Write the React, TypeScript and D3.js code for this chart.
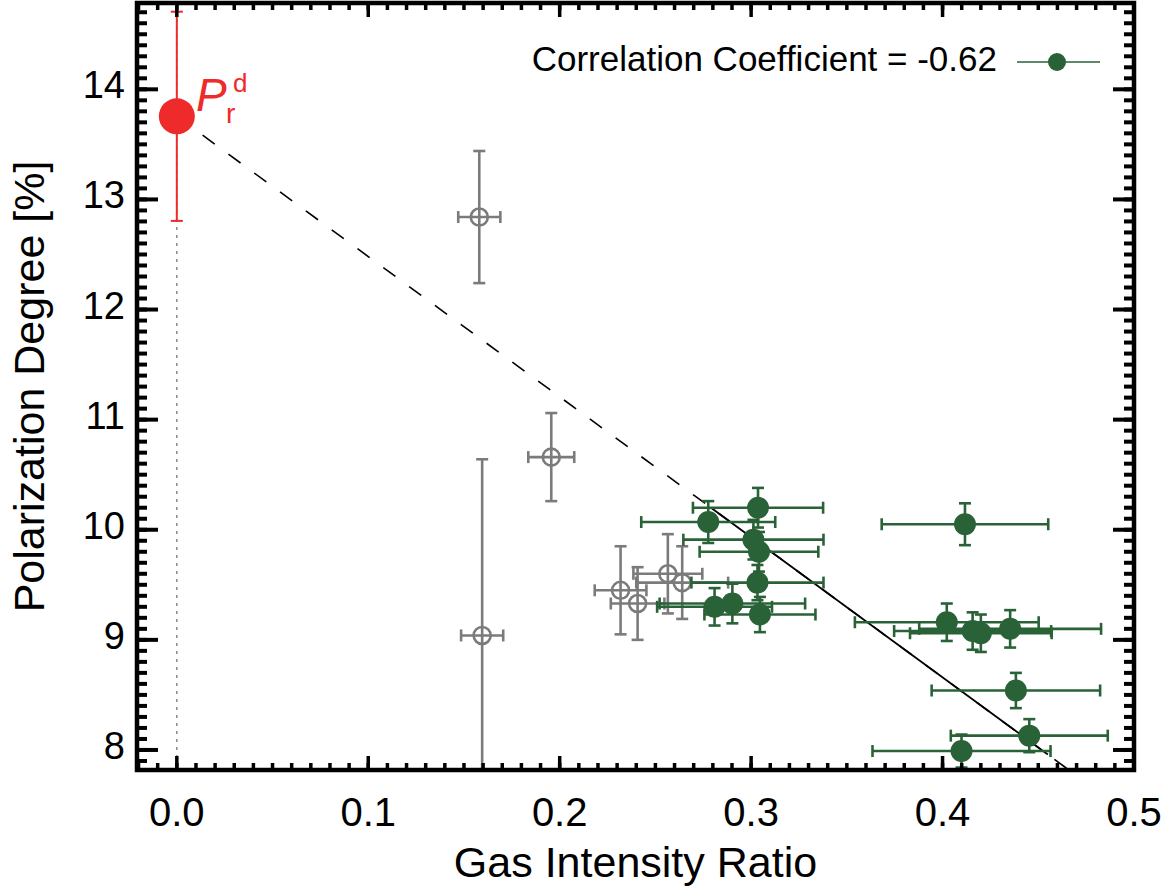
import React from 'react';
import * as d3 from 'd3';

// ---- data ----
const xMajorTicks = [0.0, 0.1, 0.2, 0.3, 0.4, 0.5];
const xTickLabels = ['0.0', '0.1', '0.2', '0.3', '0.4', '0.5'];
const yMajorTicks = [8, 9, 10, 11, 12, 13, 14];
const yTickLabels = ['8', '9', '10', '11', '12', '13', '14'];

// excluded (open grey) points
const grayX = [0.158, 0.1956, 0.1595, 0.2318, 0.2407, 0.2565, 0.264];
const grayY = [12.84, 10.66, 9.04, 9.45, 9.33, 9.6, 9.52];
const grayXErr = [0.011, 0.012, 0.011, 0.0135, 0.014, 0.018, 0.024];
const grayYErr = [0.6, 0.4, 1.6, 0.4, 0.33, 0.36, 0.33];

// fitted (filled green) points
const greenX = [0.3036, 0.2776, 0.3012, 0.3041, 0.3033, 0.2809, 0.2902, 0.3046, 0.4117, 0.4022, 0.4157, 0.42, 0.4353, 0.4383, 0.4453, 0.4099];
const greenY = [10.2, 10.07, 9.91, 9.8, 9.52, 9.3, 9.33, 9.23, 10.05, 9.16, 9.08, 9.06, 9.1, 8.54, 8.13, 7.99];
const greenXErr = [0.034, 0.035, 0.0366, 0.031, 0.0345, 0.03, 0.038, 0.029, 0.0435, 0.048, 0.041, 0.037, 0.0475, 0.044, 0.041, 0.0465];
const greenYErr = [0.18, 0.19, 0.18, 0.18, 0.16, 0.17, 0.18, 0.16, 0.19, 0.17, 0.17, 0.17, 0.17, 0.16, 0.15, 0.15];

// extrapolated point P_r^d
const refX = [0.0];
const refY = [13.755];
const refYErr = [0.95];

// linear fit
const fitIntercept = 13.755;
const fitSlope = -12.74;
const fitRange = [0.279, 0.455];

const legendText = 'Correlation Coefficient = -0.62';
const xLabel = 'Gas Intensity Ratio';
const yLabel = 'Polarization Degree [%]';

// ---- styles ----
const GREEN = '#2a6238';
const GRAY = '#7b7b7b';
const RED = '#ee2a2a';
const FONT = '"Liberation Sans", Arial, Helvetica, sans-serif';

export default function App() {
  const W = 1172, H = 893;
  const L = 137, R = 1134, T = 3, B = 770;
  const x = d3.scaleLinear().domain([-0.0208, 0.5]).range([L, R]);
  const y = d3.scaleLinear().domain([7.818, 14.784]).range([B, T]);

  const xMinor = d3.range(-2, 51).map((i) => i / 100);
  const yMinor = d3.range(79, 148).map((i) => i / 10);

  const line = d3.line<number>().x((v) => x(v)).y((v) => y(fitIntercept + fitSlope * v));
  const fullLine = line([0, 0.5]) || '';
  const solidLine = line(fitRange) || '';

  const cap = 6;

  const errBars = (xs: number[], ys: number[], xe: number[] | null, ye: number[], color: string, sw: number, key: string) =>
    xs.map((xv, i) => {
      const cx = x(xv), cy = y(ys[i]);
      const y0 = y(ys[i] - ye[i]), y1 = y(ys[i] + ye[i]);
      const els = [
        <line key={key + 'v' + i} x1={cx} x2={cx} y1={y0} y2={y1} stroke={color} strokeWidth={sw} />,
        <line key={key + 'vt' + i} x1={cx - cap} x2={cx + cap} y1={y1} y2={y1} stroke={color} strokeWidth={sw} />,
        <line key={key + 'vb' + i} x1={cx - cap} x2={cx + cap} y1={y0} y2={y0} stroke={color} strokeWidth={sw} />,
      ];
      if (xe) {
        const x0 = x(xv - xe[i]), x1 = x(xv + xe[i]);
        els.push(
          <line key={key + 'h' + i} x1={x0} x2={x1} y1={cy} y2={cy} stroke={color} strokeWidth={sw} />,
          <line key={key + 'hl' + i} x1={x0} x2={x0} y1={cy - cap} y2={cy + cap} stroke={color} strokeWidth={sw} />,
          <line key={key + 'hr' + i} x1={x1} x2={x1} y1={cy - cap} y2={cy + cap} stroke={color} strokeWidth={sw} />
        );
      }
      return <g key={key + i}>{els}</g>;
    });

  return (
    <svg width={W} height={H} style={{ position: 'absolute', left: 0, top: 0, background: '#fff' }} fontFamily={FONT}>
      <defs>
        <clipPath id="plotClip">
          <rect x={L} y={T} width={R - L} height={B - T} />
        </clipPath>
      </defs>
      <rect x={0} y={0} width={W} height={H} fill="#fff" />

      <g clipPath="url(#plotClip)">
        {/* dotted zero line */}
        <line x1={x(0)} x2={x(0)} y1={T} y2={B} stroke="#888" strokeWidth={1.5} strokeDasharray="3,5" />
        {/* fit lines */}
        <path d={fullLine} fill="none" stroke="#000" strokeWidth={1.6} strokeDasharray="15,17" />
        <path d={solidLine} fill="none" stroke="#000" strokeWidth={1.8} />

        {/* grey points */}
        {errBars(grayX, grayY, grayXErr, grayYErr, GRAY, 2.6, 'g')}
        {grayX.map((xv, i) => (
          <circle key={'gc' + i} cx={x(xv)} cy={y(grayY[i])} r={8.5} fill="none" stroke={GRAY} strokeWidth={2.6} />
        ))}

        {/* green points */}
        {errBars(greenX, greenY, greenXErr, greenYErr, GREEN, 2.6, 'G')}
        {greenX.map((xv, i) => (
          <circle key={'Gc' + i} cx={x(xv)} cy={y(greenY[i])} r={11} fill={GREEN} />
        ))}

        {/* red point */}
        {errBars(refX, refY, null, refYErr, RED, 2, 'r')}
        {refX.map((xv, i) => (
          <circle key={'rc' + i} cx={x(xv)} cy={y(refY[i])} r={18} fill={RED} />
        ))}
      </g>

      {/* P_r^d label */}
      <text x={196} y={111} fill={RED} fontSize={46} fontStyle="italic">P</text>
      <text x={226} y={123} fill={RED} fontSize={28}>r</text>
      <text x={233} y={92} fill={RED} fontSize={26}>d</text>

      {/* legend */}
      <text x={997} y={71} fontSize={35} textAnchor="end" fill="#000">{legendText}</text>
      <line x1={1017} x2={1100} y1={62} y2={62} stroke={GREEN} strokeWidth={1.6} />
      <circle cx={1057} cy={62} r={9} fill={GREEN} />

      {/* ticks */}
      {xMinor.map((v, i) => (
        <g key={'xm' + i}>
          <line x1={x(v)} x2={x(v)} y1={B} y2={B - 7} stroke="#000" strokeWidth={3.5} />
          <line x1={x(v)} x2={x(v)} y1={T} y2={T + 7} stroke="#000" strokeWidth={3.5} />
        </g>
      ))}
      {xMajorTicks.map((v, i) => (
        <g key={'xM' + i}>
          <line x1={x(v)} x2={x(v)} y1={B} y2={B - 14} stroke="#000" strokeWidth={3.5} />
          <line x1={x(v)} x2={x(v)} y1={T} y2={T + 14} stroke="#000" strokeWidth={3.5} />
          <text x={x(v)} y={826} fontSize={40} textAnchor="middle" fill="#000">{xTickLabels[i]}</text>
        </g>
      ))}
      {yMinor.map((v, i) => (
        <g key={'ym' + i}>
          <line x1={L} x2={L + 10} y1={y(v)} y2={y(v)} stroke="#000" strokeWidth={4} />
          <line x1={R} x2={R - 10} y1={y(v)} y2={y(v)} stroke="#000" strokeWidth={4} />
        </g>
      ))}
      {yMajorTicks.map((v, i) => (
        <g key={'yM' + i}>
          <line x1={L} x2={L + 21} y1={y(v)} y2={y(v)} stroke="#000" strokeWidth={4} />
          <line x1={R} x2={R - 21} y1={y(v)} y2={y(v)} stroke="#000" strokeWidth={4} />
          <text x={125} y={y(v) + 9} fontSize={38} textAnchor="end" fill="#000">{yTickLabels[i]}</text>
        </g>
      ))}

      {/* frame */}
      <rect x={L} y={T} width={R - L} height={B - T} fill="none" stroke="#000" strokeWidth={4.5} />

      {/* axis titles */}
      <text x={(L + R) / 2} y={877} fontSize={43} textAnchor="middle" fill="#000">{xLabel}</text>
      <text transform={`translate(44,${(T + B) / 2}) rotate(-90)`} fontSize={43} textAnchor="middle" fill="#000">{yLabel}</text>
    </svg>
  );
}
